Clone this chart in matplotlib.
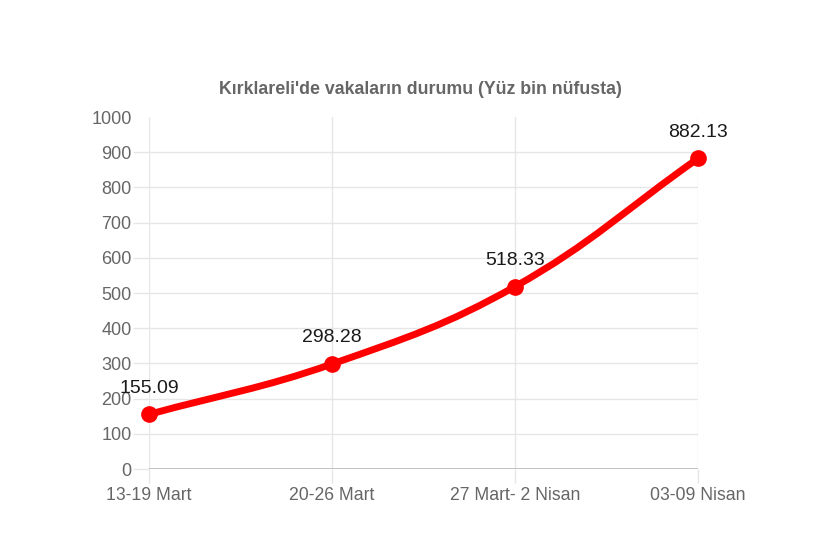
import numpy as np
import matplotlib
matplotlib.use("Agg")
import matplotlib.pyplot as plt
from matplotlib.path import Path
from matplotlib.patches import PathPatch

categories = ["13-19 Mart", "20-26 Mart", "27 Mart- 2 Nisan", "03-09 Nisan"]
values = [155.09, 298.28, 518.33, 882.13]
yticks = list(range(0, 1001, 100))
title = "Kırklareli'de vakaların durumu (Yüz bin nüfusta)"

plt.rcParams['font.family'] = ['Liberation Sans', 'DejaVu Sans']

fig = plt.figure(figsize=(8.4, 5.6), dpi=100)
ax = fig.add_axes([149/840, 1 - 469/560, (698-149)/840, (469-117)/560])
x = np.arange(len(categories))
ax.set_xlim(0, len(categories) - 1)
ax.set_ylim(0, 1000)

grid_c = "#e6e6e6"
for yv in yticks[:-1]:
    ax.axhline(yv, color=grid_c, lw=1, zorder=0)
for xv in x:
    ax.axvline(xv, color=grid_c, lw=1, zorder=0)
ax.axhline(0, color="#b8b8b8", lw=1.2, zorder=1)

for s in ax.spines.values():
    s.set_visible(False)

ax.set_yticks(yticks)
ax.set_yticklabels([str(v) for v in yticks])
ax.set_xticks(x)
ax.set_xticklabels(categories)
ax.tick_params(axis='y', length=11.5, width=1, color=grid_c, labelsize=13,
               labelcolor="#666666", pad=1)
ax.tick_params(axis='x', length=10, width=1, color=grid_c, labelsize=12.7,
               labelcolor="#666666", pad=3)
ax.yaxis.get_major_ticks()[-1].tick1line.set_visible(False)

# smooth line (Chart.js-like bezier, tension 0.4) in display space
fig.canvas.draw()
pts = ax.transData.transform(np.column_stack([x, values]))
t = 0.4
verts = [pts[0]]
codes = [Path.MOVETO]
n = len(pts)
cps = []
for i in range(n):
    p0 = pts[max(i - 1, 0)]
    p1 = pts[i]
    p2 = pts[min(i + 1, n - 1)]
    d01 = np.hypot(*(p1 - p0))
    d12 = np.hypot(*(p2 - p1))
    tot = d01 + d12
    fa = t * d01 / tot if tot else 0
    fb = t * d12 / tot if tot else 0
    prev_cp = p1 - fa * (p2 - p0)
    next_cp = p1 + fb * (p2 - p0)
    cps.append((prev_cp, next_cp))
for i in range(1, n):
    verts += [cps[i - 1][1], cps[i][0], pts[i]]
    codes += [Path.CURVE4] * 3
inv = ax.transData.inverted()
dverts = inv.transform(np.array(verts))
path = Path(dverts, codes)
ax.add_patch(PathPatch(path, facecolor='none', edgecolor='#ff0000', lw=5,
                       capstyle='round', joinstyle='round', zorder=3, clip_on=False))
ax.plot(x, values, 'o', color='#ff0000', markersize=11, zorder=4, clip_on=False)

for xi, v in zip(x, values):
    ax.annotate(f"{v:.2f}", (xi, v), xytext=(0, 19), textcoords='offset points',
                ha='center', va='center', fontsize=14, color='#1a1a1a', zorder=5)

fig.text(420/840, 1 - 90/560, title, ha='center', va='center', fontsize=12.8,
         fontweight='bold', color='#666666')

fig.savefig("out.png", dpi=100)
